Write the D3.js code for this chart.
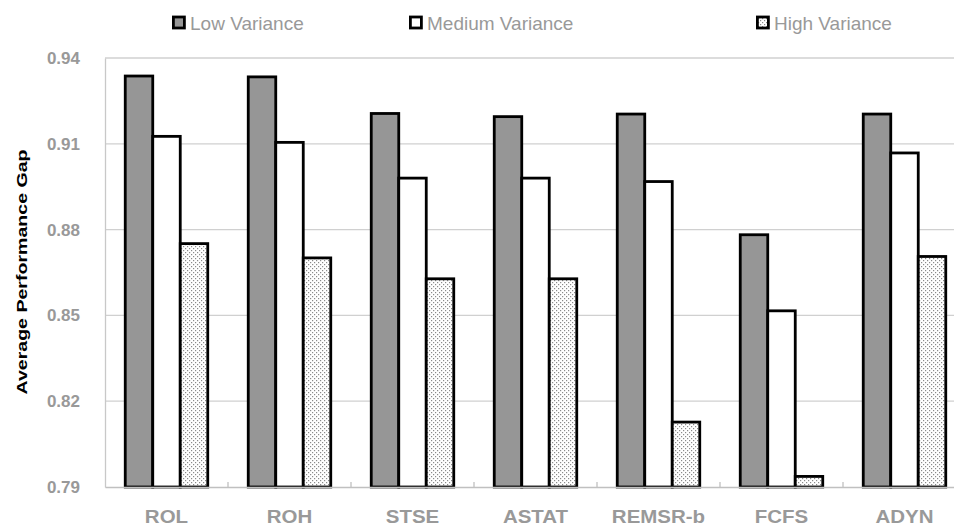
<!DOCTYPE html>
<html>
<head>
<meta charset="utf-8">
<script src="https://cdn.jsdelivr.net/npm/d3@7"></script>
<style>
html,body{margin:0;padding:0;background:#fff;}
svg{display:block;font-family:"Liberation Sans",Arial,sans-serif;}
</style>
</head>
<body>
<svg id="chart" width="954" height="529"></svg>
<script>
const categories = ["ROL","ROH","STSE","ASTAT","REMSR-b","FCFS","ADYN"];
const seriesNames = ["Low Variance","Medium Variance","High Variance"];
const lowVariance    = [0.9337, 0.9334, 0.9206, 0.9195, 0.9204, 0.8782, 0.9204];
const mediumVariance = [0.9126, 0.9105, 0.8980, 0.8980, 0.8968, 0.8516, 0.9068];
const highVariance   = [0.8751, 0.8701, 0.8628, 0.8628, 0.8127, 0.7937, 0.8706];
const yTicks = [0.79, 0.82, 0.85, 0.88, 0.91, 0.94];

const seriesValues = [lowVariance, mediumVariance, highVariance];
const svg = d3.select("#chart");

const defs = svg.append("defs");
const pat = defs.append("pattern").attr("id","dots")
  .attr("patternUnits","userSpaceOnUse").attr("width",4).attr("height",4);
pat.append("rect").attr("width",4).attr("height",4).attr("fill","#fff");
pat.append("rect").attr("x",0).attr("y",0).attr("width",1.2).attr("height",1.2).attr("fill","#8a8a8a");
pat.append("rect").attr("x",2).attr("y",2).attr("width",1.2).attr("height",1.2).attr("fill","#8a8a8a");

const fills = ["#969696","#ffffff","url(#dots)"];

const plotLeft = 105, bandW = 123, plotBottom = 487, plotTop = 58;
const x0 = d3.scaleBand().domain(categories).range([plotLeft, plotLeft + bandW*categories.length]).padding(0);
const pad = 20.25;
const x1 = d3.scaleBand().domain(seriesNames).range([pad, x0.bandwidth()-pad]).padding(0);
const y = d3.scaleLinear().domain([0.79, 0.94]).range([plotBottom, plotTop]);

// gridlines
svg.append("g").selectAll("line").data(yTicks.slice(1)).join("line")
  .attr("x1", plotLeft).attr("x2", x0.range()[1])
  .attr("y1", d=>y(d)).attr("y2", d=>y(d))
  .attr("stroke","#d0d0d0").attr("stroke-width",1.3);

// y axis
const yAxis = svg.append("g").attr("transform",`translate(${plotLeft},0)`)
  .call(d3.axisLeft(y).tickValues(yTicks).tickFormat(d3.format(".2f")).tickSize(0).tickPadding(25));
yAxis.select(".domain").attr("stroke","#c8c8c8").attr("stroke-width",1.3);
yAxis.selectAll("text").attr("font-size",17).attr("font-weight","bold").attr("fill","#999")
  .attr("font-family","Liberation Sans, Arial, sans-serif");

// bars
const groups = svg.append("g").selectAll("g").data(categories).join("g")
  .attr("transform", d=>`translate(${x0(d)},0)`);
groups.selectAll("rect").data((c,i)=>seriesNames.map((s,j)=>({s, j, v: seriesValues[j][i]}))).join("rect")
  .attr("x", d=>x1(d.s)).attr("width", x1.bandwidth())
  .attr("y", d=>y(d.v)).attr("height", d=>plotBottom - y(d.v))
  .attr("fill", d=>fills[d.j]).attr("stroke","#000").attr("stroke-width",2.8);

// x axis
const xAxis = svg.append("g").attr("transform",`translate(0,${plotBottom})`)
  .call(d3.axisBottom(x0).tickSize(0).tickFormat(""));
xAxis.select(".domain").attr("stroke","#c0c0c0").attr("stroke-width",1.5);
svg.append("g").selectAll("line").data(categories.slice(1)).join("line")
  .attr("x1", d=>x0(d)).attr("x2", d=>x0(d))
  .attr("y1", plotBottom).attr("y2", plotBottom-5)
  .attr("stroke","#c0c0c0").attr("stroke-width",1.3);
svg.append("g").selectAll("text").data(categories).join("text")
  .attr("x", d=>x0(d)+x0.bandwidth()/2).attr("y", 523)
  .attr("text-anchor","middle").attr("font-size",17.5).attr("font-weight","bold")
  .attr("fill","#999").text(d=>d)
  .each(function(){
    const w = this.getComputedTextLength();
    d3.select(this).attr("textLength", w*1.17).attr("lengthAdjust","spacingAndGlyphs");
  });

// y title
svg.append("text").attr("transform","translate(26.5,272) rotate(-90)")
  .attr("text-anchor","middle").attr("font-size",15).attr("font-weight","bold")
  .attr("fill","#000").attr("textLength",245).attr("lengthAdjust","spacingAndGlyphs")
  .text("Average Performance Gap");

// legend
const legendX = [172, 409, 756];
const lg = svg.append("g").selectAll("g").data(seriesNames).join("g")
  .attr("transform",(d,i)=>`translate(${legendX[i]},0)`);
lg.append("rect").attr("x",1.4).attr("y",17).attr("width",11).attr("height",11)
  .attr("fill",(d,i)=>fills[i]).attr("stroke","#000").attr("stroke-width",2.8);
lg.append("text").attr("x",18).attr("y",29.5).attr("font-size",19).attr("fill","#999").text(d=>d);
</script>
</body>
</html>
